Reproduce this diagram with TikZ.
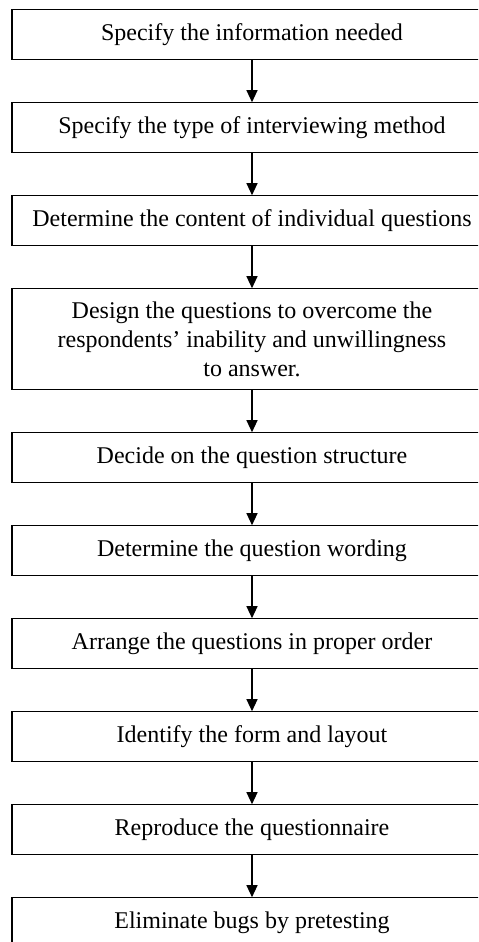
\documentclass[tikz,border=0pt]{standalone}
\usepackage{fontspec}
\setmainfont{Liberation Serif}
\usetikzlibrary{positioning, arrows.meta}
\tikzset{
  stepbox/.style={rectangle, draw, line width=0.6pt, minimum width=240pt, minimum height=25pt, align=center, inner sep=2pt, font=\fontsize{12}{14.5}\selectfont},
  arrow/.style={line width=0.6pt, -{Triangle[width=5.5pt,length=6pt]}}
}
\begin{document}
\begin{tikzpicture}[node distance=20.9pt]

\clip (0,0) rectangle (239pt,-471pt);

\node (info) [stepbox] at (126pt,-17.4pt) {Specify the information needed};
\node (method) [stepbox, below=of info] {Specify the type of interviewing method};
\node (content) [stepbox, below=of method] {Determine the content of individual questions};
\node (design) [stepbox, below=of content, minimum height=50.5pt] {Design the questions to overcome the\\respondents’ inability and unwillingness\\to answer.};
\node (structure) [stepbox, below=of design] {Decide on the question structure};
\node (wording) [stepbox, below=of structure] {Determine the question wording};
\node (order) [stepbox, below=of wording] {Arrange the questions in proper order};
\node (layout) [stepbox, below=of order] {Identify the form and layout};
\node (reproduce) [stepbox, below=of layout] {Reproduce the questionnaire};
\node (pretest) [stepbox, below=of reproduce] {Eliminate bugs by pretesting};

\draw[arrow] (info) -- (method);
\draw[arrow] (method) -- (content);
\draw[arrow] (content) -- (design);
\draw[arrow] (design) -- (structure);
\draw[arrow] (structure) -- (wording);
\draw[arrow] (wording) -- (order);
\draw[arrow] (order) -- (layout);
\draw[arrow] (layout) -- (reproduce);
\draw[arrow] (reproduce) -- (pretest);

\end{tikzpicture}
\end{document}
